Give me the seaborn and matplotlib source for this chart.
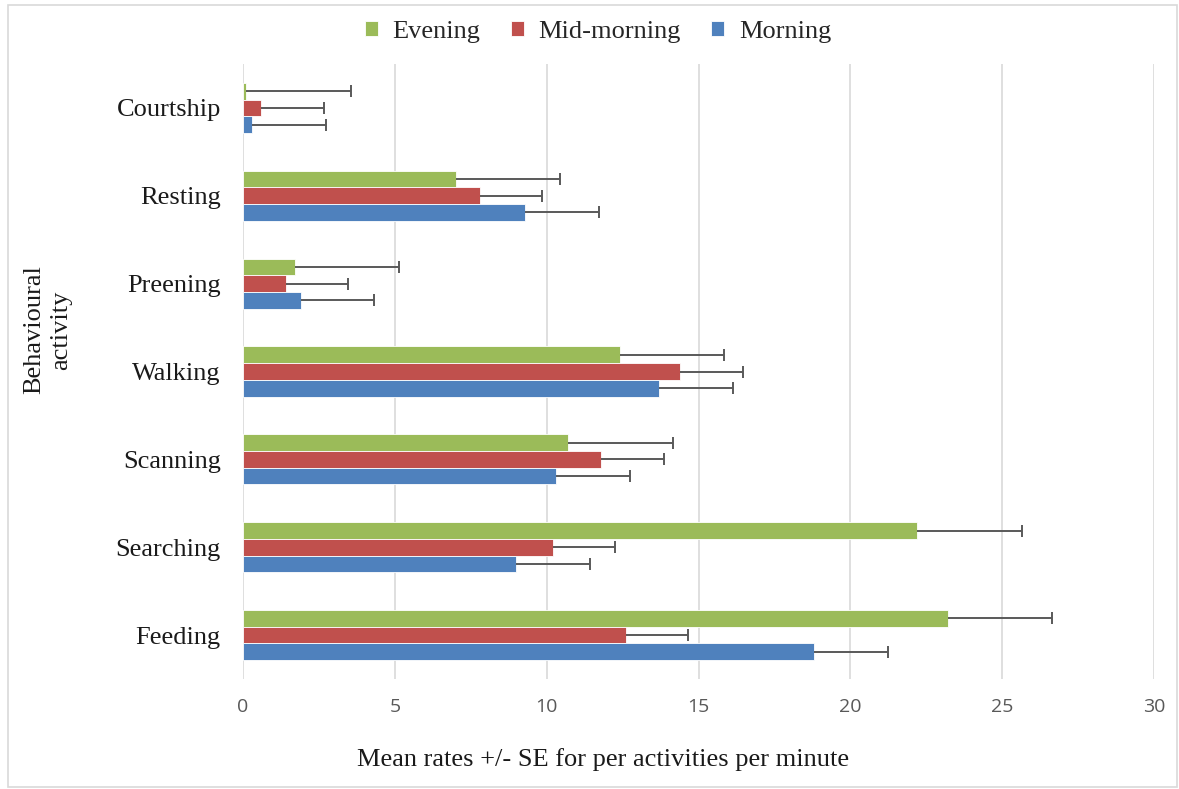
import numpy as np
import pandas as pd
import matplotlib
matplotlib.use("Agg")
import matplotlib.pyplot as plt
from matplotlib import font_manager
from matplotlib.patches import Rectangle
import seaborn as sns

# ---- data ----
activities = ["Courtship", "Resting", "Preening", "Walking", "Scanning", "Searching", "Feeding"]
periods = ["Evening", "Mid-morning", "Morning"]
evening = [0.1, 7.0, 1.7, 12.4, 10.7, 22.2, 23.2]
mid_morning = [0.6, 7.8, 1.4, 14.4, 11.8, 10.2, 12.6]
morning = [0.3, 9.3, 1.9, 13.7, 10.3, 9.0, 18.8]
evening_se = [3.45, 3.45, 3.45, 3.45, 3.45, 3.45, 3.45]
mid_morning_se = [2.06, 2.06, 2.06, 2.06, 2.06, 2.06, 2.06]
morning_se = [2.43, 2.43, 2.43, 2.43, 2.43, 2.43, 2.43]
x_ticks = [0, 5, 10, 15, 20, 25, 30]
colors = {"Evening": "#9BBB59", "Mid-morning": "#C0504D", "Morning": "#4F81BD"}

values = {"Evening": evening, "Mid-morning": mid_morning, "Morning": morning}
errors = {"Evening": evening_se, "Mid-morning": mid_morning_se, "Morning": morning_se}
df = pd.DataFrame([
    {"activity": a, "period": p, "rate": values[p][i]}
    for p in periods for i, a in enumerate(activities)
])

sns.set_theme(style="white")
serif = "Liberation Serif"
names = {f.name for f in font_manager.fontManager.ttflist}
tick_font = "Liberation Sans Narrow" if "Liberation Sans Narrow" in names else "Open Sans"
plt.rcParams["font.family"] = [serif, "DejaVu Sans"]

fig = plt.figure(figsize=(11.79, 7.89), dpi=100)
ax = fig.add_axes([243 / 1179, 1 - 679 / 789, 911 / 1179, (679 - 64) / 789])

sns.barplot(data=df, y="activity", x="rate", hue="period", order=activities,
            hue_order=periods, palette=colors, orient="h", errorbar=None,
            saturation=1, width=0.57, edgecolor="white", linewidth=0.6, ax=ax, zorder=2)

# error bars (plus side only)
for cont, p in zip(ax.containers, periods):
    xs = [b.get_width() for b in cont]
    ys = [b.get_y() + b.get_height() / 2 for b in cont]
    err = errors[p]
    _, caps, _ = ax.errorbar(xs, ys, xerr=[np.zeros(len(err)), err], fmt="none",
                             ecolor="#595959", elinewidth=1.4, capsize=4,
                             capthick=1.4, zorder=3)
    caps[0].set_visible(False)

ax.set_xlim(0, 30)
ax.set_ylim(6.5, -0.5)
ax.set_xticks(x_ticks)
ax.set_xticklabels([str(t) for t in x_ticks], fontfamily=tick_font, fontsize=14, color="#595959")
ax.tick_params(axis="x", length=0, pad=14)
ax.tick_params(axis="y", length=0, pad=16, labelsize=19, labelcolor="#1a1a1a")
ax.xaxis.grid(True, color="#D9D9D9", linewidth=1.2, zorder=0)
ax.set_axisbelow(True)
for s in ax.spines.values():
    s.set_visible(False)
ax.set_ylabel("")
ax.set_xlabel("Mean rates +/- SE for per activities per minute", fontsize=19,
              color="#1a1a1a")
ax.xaxis.set_label_coords((603 - 243) / 911, -(760 - 679) / (679 - 64), transform=ax.transAxes)
ax.xaxis.label.set_va("center")

fig.text(48 / 1179, 1 - 330 / 789, "Behavioural\nactivity", rotation=90, ha="center",
         va="center", fontsize=19, color="#1a1a1a", multialignment="center", linespacing=1.3)

sns.move_legend(ax, "center", bbox_to_anchor=(598 / 1179, 1 - 32 / 789),
                bbox_transform=fig.transFigure, ncol=3, frameon=False, title=None,
                fontsize=19, handlelength=0.5, handleheight=0.5, handletextpad=0.55,
                columnspacing=1.15)

fig.patches.append(Rectangle((8 / 1179, 2 / 789), 1169 / 1179, 782 / 789,
                             transform=fig.transFigure, fill=False,
                             edgecolor="#D9D9D9", linewidth=1.2))

fig.savefig("out.png", dpi=100, facecolor="white")
